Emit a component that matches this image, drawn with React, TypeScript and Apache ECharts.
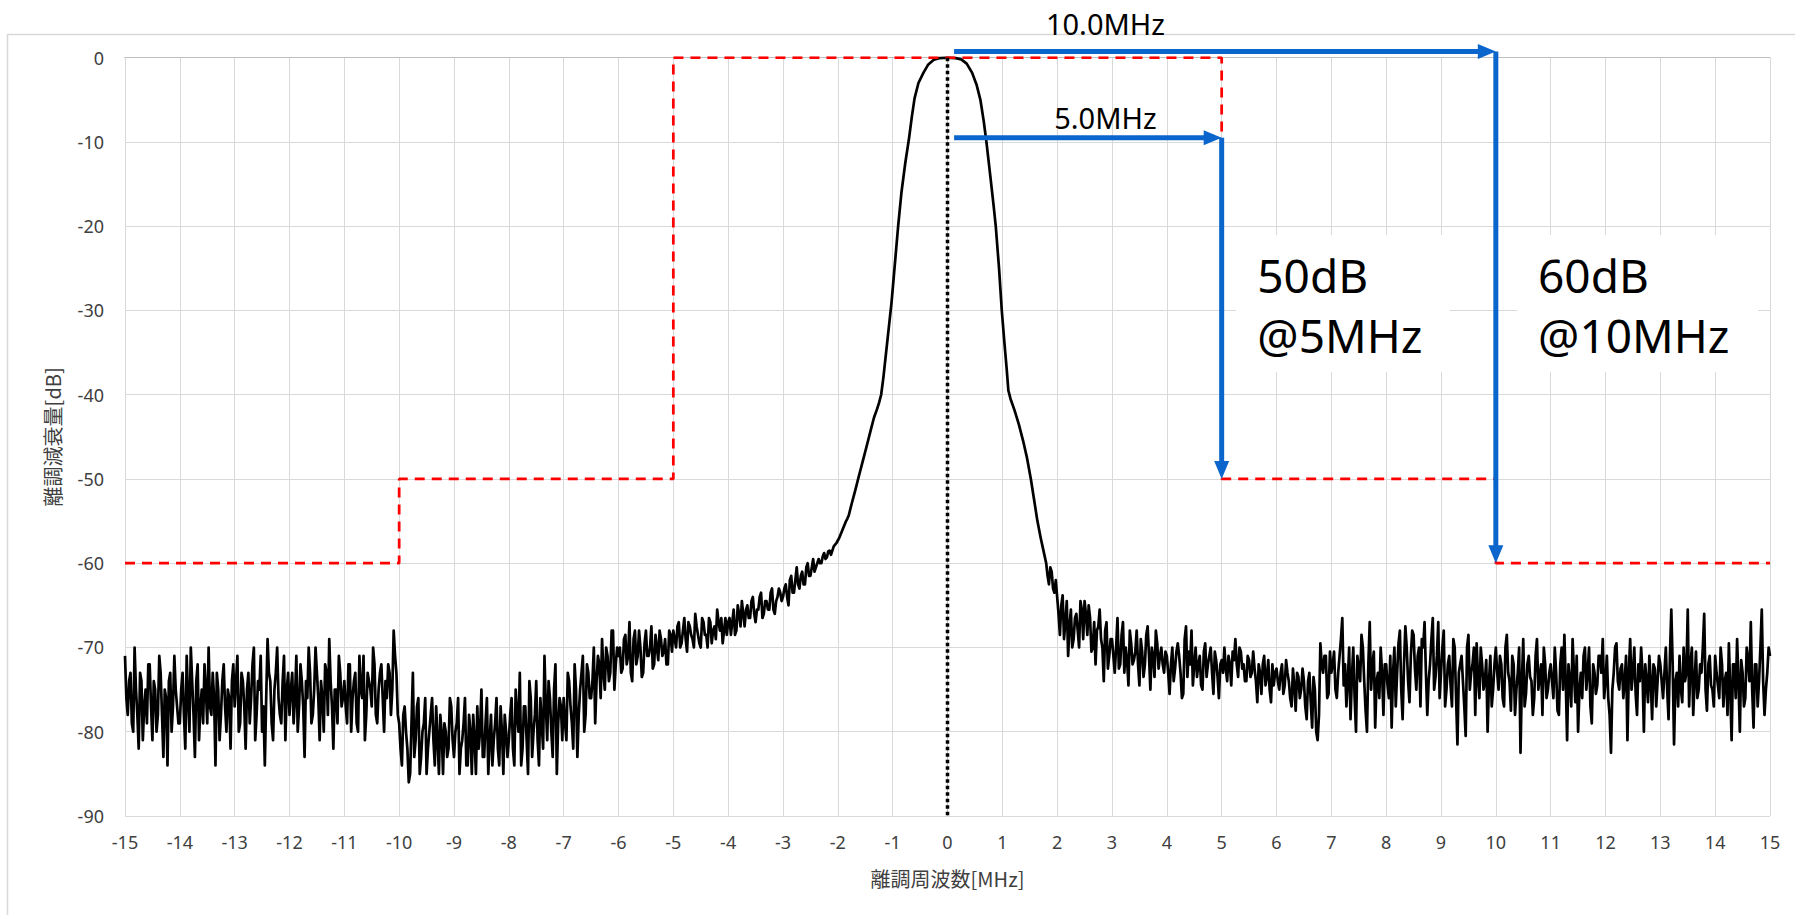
import React, { useEffect, useRef } from "react";
import * as echarts from "echarts";

// ---------- axes ----------
const freqMin = -15;
const freqMax = 15;
const freqInterval = 1;
const levelMin = -90;
const levelMax = 0;
const levelInterval = 10;
const xAxisTitle = "離調周波数[MHz]";
const yAxisTitle = "離調減衰量[dB]";

const noiseStep = 0.05;
// -15.00 MHz ... -1.80 MHz, every 0.05 MHz
const leftStartMHz = -15;
const leftLevels = [
  -71, -78, -73, -80, -75, -82, -74, -77, -79, -72, -81, -75, -78, -73, -83, -76, -74, -80, -71, -77,
  -79, -73, -82, -76, -70, -78, -74, -81, -75, -72, -79, -77, -73, -84, -75, -78, -72, -80, -76, -74,
  -77, -71, -79, -74, -82, -73, -76, -70, -78, -75, -80, -84, -69, -74, -81, -73, -76, -79, -71, -75,
  -78, -73, -76, -80, -72, -77, -74, -70, -79, -75, -73, -81, -76, -72, -78, -74, -82, -75, -71, -77,
  -74, -79, -72, -76, -73, -80, -75, -71, -78, -74, -77, -72, -79, -73, -76, -74, -72, -78, -68, -73,
  -79, -84, -77, -82, -85, -73, -81, -76, -83, -79, -85, -80, -76, -84, -81, -78, -85, -80, -82, -77,
  -83, -79, -85, -81, -76, -84, -80, -78, -85, -82, -75, -83, -76, -81, -84, -79, -82, -77, -85, -80,
  -81, -76, -84, -78, -73, -82, -77, -85, -76, -80, -74, -84, -79, -71, -81, -76, -83, -72, -79, -77,
  -76, -81, -74, -79, -72, -83, -75, -71, -78, -73, -76, -70, -74, -72, -69, -75, -71, -73, -68, -72,
  -71, -73, -69, -72, -67, -74, -68, -71, -70, -73, -68, -71, -67.5, -72, -70, -68, -71, -69, -72, -68.5,
  -68, -70, -67, -69.5, -66.5, -70.5, -67.5, -69, -66, -68.5, -70, -67, -68.5, -66.5, -69.5, -67.5, -65.5, -68, -69.5, -66.5,
  -67, -68.5, -65.5, -68, -66, -64.5, -67.5, -65, -66.5, -64, -67, -65.5, -63.5, -66, -64.5, -65.5, -63, -66, -64, -63.5,
  -64, -62.5, -65, -61.5, -63.5, -60.5, -63, -61, -62.5, -60, -61.5, -59.5, -60.5, -59.5, -60, -58.8, -59.3, -58.5, -58.5, -57.8,
  -57.3, -56.6, -55.8, -55, -54.3,
];
// -14.975 MHz ... -1.825 MHz (samples between the ones above)
const leftLevelsMid = [
  -76, -74, -79, -70, -78, -73, -81, -75, -72, -77, -74, -80, -71, -78, -75, -84, -73, -77, -75, -79,
  -75, -78, -71, -80, -74, -83, -72, -77, -79, -75, -70, -78, -76, -73, -81, -74, -77, -75, -82, -72,
  -74, -80, -73, -77, -75, -79, -72, -81, -74, -71, -77, -76, -73, -79, -75, -70, -78, -74, -81, -73,
  -75, -79, -71, -77, -74, -83, -76, -73, -78, -70, -76, -74, -80, -73, -69, -77, -75, -79, -73, -76,
  -77, -72, -80, -74, -79, -71, -76, -81, -73, -75, -70, -78, -75, -72, -80, -76, -73, -75, -71, -78,
  -82, -78, -80, -86, -79, -83, -77, -85, -80, -76, -82, -78, -81, -77, -85, -80, -79, -83, -76, -81,
  -80, -76, -82, -79, -84, -78, -85, -81, -77, -80, -83, -79, -85, -78, -81, -76, -84, -80, -78, -83,
  -78, -82, -75, -80, -84, -77, -81, -74, -83, -78, -81, -76, -82, -77, -74, -80, -75, -85, -76, -81,
  -79, -73, -77, -82, -75, -78, -73, -80, -72, -76, -74, -79, -71, -76, -73, -70, -74, -68, -75, -70,
  -70, -72.5, -68.5, -71, -73, -69, -72, -68, -73.5, -69.5, -71, -70, -72.5, -68.5, -71.5, -69, -70.5, -72, -68, -70.5,
  -69, -67.5, -70, -68, -69, -67, -68.5, -70, -67.5, -69.5, -66.5, -68.5, -70, -67, -68, -69, -67, -66.5, -68, -68.5,
  -66.5, -67, -68.5, -65, -67.5, -66, -65.5, -66.5, -64.5, -66, -65.5, -64, -66.5, -64.5, -65.5, -63.5, -65.5, -64.5, -63, -64.5,
  -63, -64, -62, -63.5, -62, -62.5, -61.5, -62.5, -60.5, -61.5, -60.5, -61, -60, -60, -59.2, -59.5, -58.6, -59, -58, -57.6,
  -57, -56.2, -55.4, -54.7,
];

// main lobe, explicit points
const peakFreqs = [
  -1.75, -1.68, -1.63, -1.55, -1.47, -1.4, -1.34, -1.29, -1.25, -1.21, -1.17, -1.12, -1.07, -1.02, -0.96,
  -0.9, -0.84, -0.77, -0.7, -0.65, -0.6, -0.53, -0.44, -0.35, -0.25, -0.15, 0, 0.15, 0.25, 0.35, 0.45,
  0.53, 0.6, 0.66, 0.71, 0.78, 0.84, 0.88, 0.94, 0.99, 1.04, 1.08, 1.11, 1.15, 1.22, 1.3, 1.38, 1.45,
  1.52, 1.58, 1.64, 1.7, 1.75,
];
const peakLevels = [
  -53, -51.3, -50, -48, -46, -44.2, -42.7, -41.8, -41, -40, -38, -35, -32, -29, -24.5,
  -20, -16, -12.5, -9.5, -7, -4.8, -3, -1.8, -0.8, -0.25, -0.05, 0, -0.05, -0.2, -0.7, -1.8,
  -3.2, -5, -7.5, -10, -14, -17.5, -20, -25, -30, -34, -37, -39.5, -40.5, -41.8, -43.5, -45.5, -47.5,
  -50, -52.5, -55, -57, -58.5,
];

// 1.80 MHz ... 15.00 MHz, every 0.05 MHz
const rightStartMHz = 1.8;
const rightLevels = [
  -60, -62.5, -61, -63.5,
  -64, -68.5, -63.8, -67, -71, -65.5, -69, -66, -70, -65.5, -64.5, -68.5, -66.5, -70, -72, -67.5, -69, -74, -67, -71,
  -69, -73, -66.5, -72, -67, -70, -74.5, -69.5, -71.5, -68, -74.5, -70.5, -72, -67.5, -75, -71, -68, -72.5, -70, -73,
  -71, -75.5, -70, -72.5, -69.5, -73, -75.5, -67.5, -70.5, -68, -72, -73.5, -71, -75, -69.5, -72, -70, -75.5, -71.5, -76,
  -71.5, -70, -74, -72, -70.5, -69, -73.5, -70.5, -72, -74, -71.5, -73, -72.5, -76.5, -73, -72, -74.5, -71.5, -76.5, -74.5,
  -72.5, -75, -72, -74.5, -73, -76, -72.5, -77.5, -73.5, -75, -74, -78.5, -73, -79.5, -75, -81, -69.5, -73, -71, -75.5,
  -73, -70.5, -76, -71, -66.5, -72, -74, -78.5, -70, -80, -72.5, -68.5, -74, -80, -67, -72, -79.5, -73, -70, -78,
  -72, -76, -79.5, -70, -73, -68, -78.5, -67.5, -74, -71, -68.5, -75, -70, -69, -67, -78, -72, -66.5, -73.5, -67,
  -73, -68, -75, -71, -77, -70, -81.5, -72, -74, -80.5, -68.5, -73, -70, -69.5, -76, -72, -74, -80, -71, -75,
  -70, -75, -72, -77, -68.5, -74, -71, -78, -73, -82.5, -69, -75.5, -71, -74, -76, -69, -73.5, -78, -72, -75,
  -72, -76, -73, -78, -70, -68.5, -81, -74, -69, -76.5, -80, -73, -71, -75, -70, -79, -73, -74.5, -71, -69,
  -74, -76, -82.5, -73, -69.5, -75, -72, -74, -81, -69, -73, -75.5, -72, -70, -80, -74, -71, -78.5, -72.5, -74,
  -72, -76, -70, -78.5, -65.5, -81.5, -73, -71, -76.5, -74, -65.5, -72, -78, -70.5, -75, -73, -66, -77.5, -71, -75,
  -71, -74.5, -70, -77, -73, -69.5, -81, -72, -69, -80, -73, -76, -71.5, -67, -79.5, -72, -74, -65.5, -78, -73,
  -71,
];
// 1.825 MHz ... 14.975 MHz (samples between the ones above)
const rightLevelsMid = [
  -61.5, -60.5, -63, -62,
  -66, -65, -69, -64.5, -67.5, -70, -66.5, -68, -64.5, -69, -66, -65, -70.5, -67, -68, -65.5, -70, -68, -72.5, -69,
  -71, -70, -72.5, -68.5, -73, -71.5, -68, -72, -70.5, -72, -69, -73.5, -68.5, -71, -70, -73.5, -69.5, -71, -72, -70.5,
  -73, -72, -74, -70.5, -71, -76, -69, -73.5, -72, -74.5, -70, -72, -74.5, -70.5, -73.5, -71, -73, -70.5, -73.5, -72,
  -73, -72.5, -71, -74.5, -71.5, -72, -70, -72.5, -74, -71, -73.5, -70.5, -74, -72, -75.5, -71, -73.5, -75, -72, -73,
  -74, -73, -75.5, -71.5, -74, -77, -74.5, -73, -76, -72.5, -77, -74, -76.5, -73.5, -80, -78, -72, -71, -76, -70.5,
  -72, -75, -73, -69, -74.5, -77, -70, -73.5, -76, -71, -74, -70, -77.5, -72, -75, -70.5, -74, -76, -73, -72,
  -74.5, -71, -73, -77, -69.5, -75, -72, -70, -76.5, -68, -72.5, -71, -77, -70, -73, -74, -69, -75, -71, -76,
  -70, -77, -72, -74.5, -69, -76, -73, -71, -77, -70, -75, -72, -78, -73.5, -70, -75, -71.5, -74, -77, -72,
  -73, -71, -76, -70, -73, -77.5, -72, -75, -70, -74, -77, -72, -73.5, -78, -71, -75, -72, -70, -76, -73,
  -74, -70, -77.5, -72, -75, -74, -72, -77, -73, -71, -75, -76, -70, -73, -77, -72, -75.5, -71, -73, -76,
  -71, -78, -75, -70, -74, -72.5, -76, -71, -73, -75, -70, -78, -74, -73, -72, -76.5, -74, -72, -77, -71,
  -74, -73, -75, -71, -72, -74, -77, -75, -70, -73, -77, -70, -74, -76, -72, -70, -75, -72, -74.5, -77,
  -73, -76, -72, -74, -78, -75, -72, -76, -74, -71.5, -77, -70, -74, -75, -72, -77, -70, -74, -75, -70,
];

// ---------- spectrum mask ----------
const maskFreqs = [-15, -10, -10, -5, -5, 5, 5, 10, 10, 15];
const maskLevels = [-60, -60, -50, -50, 0, 0, -50, -50, -60, -60];

// ---------- centre marker ----------
const centerFreqs = [0, 0];
const centerLevels = [0, -90];

// ---------- annotations ----------
const spanLabels = ["10.0MHz", "5.0MHz"];
const spanFromMHz = [0.12, 0.12];
const spanToMHz = [10, 5];
const spanLevelDb = [0.75, -9.5];
const spanDownToDb = [-60, -50];
const spanLabelMHz = [2.88, 2.88];
const spanLabelDb = [4.0, -7.05];

const noteLines = [["50dB", "@5MHz"], ["60dB", "@10MHz"]];
const noteTextMHz = [5.65, 10.77];
const noteBoxFromMHz = [5.26, 10.39];
const noteBoxToMHz = [9.16, 14.78];
const noteBoxTopDb = -21.05;
const noteBoxBottomDb = -37.3;
const noteLineDb = [-25.8, -32.9];

// ---------- styles ----------
const BLUE = "#0A66CC";
const LABEL = "#404040";
const GRID = "#d9d9d9";
const LATIN = "'Noto Sans', 'DejaVu Sans', sans-serif";
const CJK = "'Noto Sans CJK JP', 'Noto Sans', sans-serif";

function interleave(start: number, main: number[], mid: number[]): number[][] {
  const pts: number[][] = [];
  main.forEach((v, i) => {
    pts.push([+(start + i * noiseStep).toFixed(3), v]);
    if (i < mid.length) pts.push([+(start + (i + 0.5) * noiseStep).toFixed(3), mid[i]]);
  });
  return pts;
}

function buildSpectrum(): number[][] {
  const pts: number[][] = interleave(leftStartMHz, leftLevels, leftLevelsMid);
  peakFreqs.forEach((f, i) => pts.push([f, peakLevels[i]]));
  return pts.concat(interleave(rightStartMHz, rightLevels, rightLevelsMid));
}

export default function App() {
  const ref = useRef<HTMLDivElement>(null);

  useEffect(() => {
    const chart = echarts.init(ref.current as HTMLDivElement, null, { renderer: "svg" });
    const axisCommon = {
      axisTick: { show: false },
      axisLine: { show: true, lineStyle: { color: "#bfbfbf", width: 1 } },
      splitLine: { show: true, lineStyle: { color: GRID, width: 1 } },
    };
    chart.setOption({
      animation: false,
      backgroundColor: "#ffffff",
      grid: { left: 125, top: 57.7, width: 1645, height: 758.3, containLabel: false },
      xAxis: {
        type: "value",
        min: freqMin,
        max: freqMax,
        interval: freqInterval,
        ...axisCommon,
        axisLabel: { fontSize: 18, color: LABEL, fontFamily: LATIN, margin: 17 },
        name: xAxisTitle,
        nameLocation: "middle",
        nameGap: 52,
        nameTextStyle: { fontSize: 20, color: LABEL, fontFamily: CJK },
      },
      yAxis: {
        type: "value",
        min: levelMin,
        max: levelMax,
        interval: levelInterval,
        ...axisCommon,
        axisLabel: { fontSize: 18, color: LABEL, fontFamily: LATIN, margin: 21 },
        name: yAxisTitle,
        nameLocation: "middle",
        nameRotate: 90,
        nameGap: 63,
        nameTextStyle: { fontSize: 20, color: LABEL, fontFamily: CJK },
      },
      series: [
        {
          type: "line",
          name: "spectrum",
          data: buildSpectrum(),
          symbol: "none",
          showSymbol: false,
          lineStyle: { color: "#000000", width: 2.7, join: "round" },
          z: 3,
        },
        {
          type: "line",
          name: "mask",
          data: maskFreqs.map((f, i) => [f, maskLevels[i]]),
          symbol: "none",
          lineStyle: { color: "#ff0000", width: 2.75, type: [10, 7] },
          z: 4,
        },
        {
          type: "line",
          name: "center",
          data: centerFreqs.map((f, i) => [f, centerLevels[i]]),
          symbol: "none",
          lineStyle: { color: "#000000", width: 3.5, type: [3.5, 3] },
          z: 5,
        },
      ],
    });

    const p = (f: number, db: number) =>
      chart.convertToPixel({ gridIndex: 0 }, [f, db]) as number[];
    const headLen = 18;
    const headHalf = 7.5;
    const shaft = 5;
    const els: any[] = [];
    els.push({
      type: "rect",
      silent: true,
      z: 1,
      shape: { x: 7.5, y: 34.5, width: 1900, height: 1000 },
      style: { fill: "none", stroke: GRID, lineWidth: 1.5 },
    });
    spanLabels.forEach((label, i) => {
      const [x0, y0] = p(spanFromMHz[i], spanLevelDb[i]);
      const [x1] = p(spanToMHz[i], spanLevelDb[i]);
      const [, y2] = p(spanToMHz[i], spanDownToDb[i]);
      els.push({
        type: "line", z: 20, silent: true,
        shape: { x1: x0, y1: y0, x2: x1 - headLen + 2, y2: y0 },
        style: { stroke: BLUE, lineWidth: shaft },
      });
      els.push({
        type: "polygon", z: 20, silent: true,
        shape: { points: [[x1, y0], [x1 - headLen, y0 - headHalf], [x1 - headLen, y0 + headHalf]] },
        style: { fill: BLUE },
      });
      els.push({
        type: "line", z: 20, silent: true,
        shape: { x1: x1, y1: y0, x2: x1, y2: y2 - headLen + 2 },
        style: { stroke: BLUE, lineWidth: shaft },
      });
      els.push({
        type: "polygon", z: 20, silent: true,
        shape: { points: [[x1, y2], [x1 - headHalf, y2 - headLen], [x1 + headHalf, y2 - headLen]] },
        style: { fill: BLUE },
      });
      const [lx, ly] = p(spanLabelMHz[i], spanLabelDb[i]);
      els.push({
        type: "text", z: 21, silent: true, x: lx, y: ly,
        style: {
          text: label, fill: "#000000", fontSize: 29, fontFamily: LATIN,
          align: "center", verticalAlign: "middle",
        },
      });
    });
    noteLines.forEach((lines, i) => {
      const [bx0, by0] = p(noteBoxFromMHz[i], noteBoxTopDb);
      const [bx1, by1] = p(noteBoxToMHz[i], noteBoxBottomDb);
      els.push({
        type: "rect", z: 10, silent: true,
        shape: { x: bx0, y: by0, width: bx1 - bx0, height: by1 - by0 },
        style: { fill: "#ffffff" },
      });
      lines.forEach((t, k) => {
        const [tx, ty] = p(noteTextMHz[i], noteLineDb[k]);
        els.push({
          type: "text", z: 21, silent: true, x: tx, y: ty,
          style: {
            text: t, fill: "#000000", fontSize: 46, fontFamily: LATIN,
            align: "left", verticalAlign: "middle",
          },
        });
      });
    });
    chart.setOption({ graphic: els });

    return () => chart.dispose();
  }, []);

  return (
    <div
      ref={ref}
      style={{ position: "absolute", left: 0, top: 0, width: 1795, height: 915, background: "#fff" }}
    />
  );
}
